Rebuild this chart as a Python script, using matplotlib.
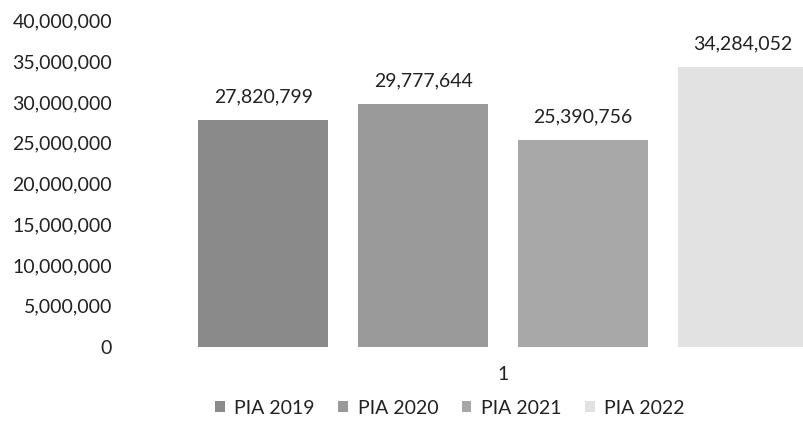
import matplotlib
matplotlib.use("Agg")
import matplotlib.pyplot as plt
from matplotlib.patches import Patch
from matplotlib.ticker import FuncFormatter, MultipleLocator

categories = ["1"]
series = ["PIA 2019", "PIA 2020", "PIA 2021", "PIA 2022"]
values = [27820799, 29777644, 25390756, 34284052]
colors = ["#8a8a8a", "#9a9a9a", "#a8a8a8", "#e2e2e2"]

plt.rcParams["font.family"] = ["Lato", "DejaVu Sans"]
TXT = "#222222"

fig = plt.figure(figsize=(8.04, 4.32), dpi=100)
W, H = 804, 432
left_px, right_px = 120, 886
bottom_px, top_px = 346.5, 20.5
ax = fig.add_axes([left_px / W, 1 - bottom_px / H, (right_px - left_px) / W, (bottom_px - top_px) / H])

spacing = 0.2085
width = 0.1697
offsets = [(-1.5 + i) * spacing for i in range(len(series))]
for i, (s, v, c) in enumerate(zip(series, values, colors)):
    ax.bar(offsets[i], v, width=width, color=c, edgecolor="none", label=s)
    ax.annotate(f"{v:,}", xy=(offsets[i], v), xytext=(0, 16.5), textcoords="offset points",
                ha="center", va="center", fontsize=14, color=TXT)

ax.set_xlim(-0.5, 0.5)
ax.set_ylim(0, 40000000)
ax.yaxis.set_major_locator(MultipleLocator(5000000))
ax.yaxis.set_major_formatter(FuncFormatter(lambda v, p: f"{int(v):,}"))
ax.set_xticks([0])
ax.set_xticklabels(categories)
for sp in ax.spines.values():
    sp.set_visible(False)
ax.tick_params(axis="y", length=0, pad=5.8, labelsize=14, labelcolor=TXT)
ax.tick_params(axis="x", length=0, pad=14, labelsize=14, labelcolor=TXT)

handles = [Patch(facecolor=c, edgecolor="none", label=s) for s, c in zip(series, colors)]
fig.legend(handles=handles, loc="center", bbox_to_anchor=(450 / W, 1 - 408 / H), ncol=4,
           frameon=False, fontsize=14, handlelength=0.5, handleheight=0.5,
           handletextpad=0.5, columnspacing=1.2, labelcolor=TXT)

fig.savefig("out.png", dpi=100)
